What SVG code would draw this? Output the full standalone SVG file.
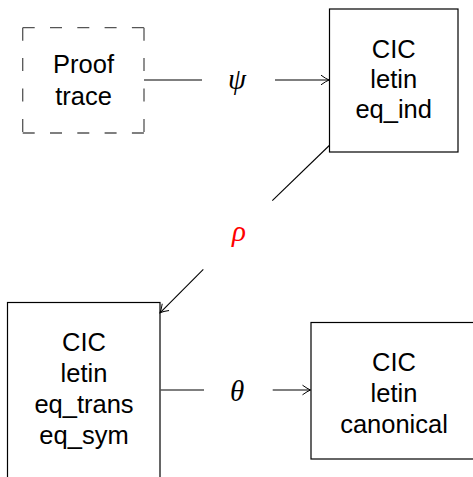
<svg xmlns="http://www.w3.org/2000/svg" width="473" height="477" viewBox="0 0 473 477">
<style>
.box{fill:none;stroke:#000;stroke-width:1.2}
.dash{fill:none;stroke:#555;stroke-width:1.3}
.t{font-family:"Liberation Sans","DejaVu Sans",sans-serif;font-size:25.5px;fill:#000;text-anchor:middle}
.m{font-family:"Liberation Serif","DejaVu Serif",serif;font-style:italic;font-size:29px;text-anchor:middle}
.c{fill:none;stroke:#000;stroke-width:1.1}
</style>
<defs>
<marker id="to" viewBox="-9 -6 10 12" refX="0" refY="0" markerWidth="10" markerHeight="12" markerUnits="userSpaceOnUse" orient="auto">
<path d="M-8,-4.8 Q-3,-1.2 0,0 Q-3,1.2 -8,4.8" fill="none" stroke="#000" stroke-width="1"/>
</marker>
</defs>
<g id="proof-trace">
<line class="dash" x1="22.7" y1="27.7" x2="144" y2="27.7" stroke-dasharray="12 15.3"/>
<line class="dash" x1="22.7" y1="133" x2="144" y2="133" stroke-dasharray="12 15.3"/>
<line class="dash" x1="22.7" y1="27.7" x2="22.7" y2="133" stroke-dasharray="13 17.4"/>
<line class="dash" x1="144" y1="27.7" x2="144" y2="133" stroke-dasharray="13 17.4"/>
<text class="t" x="83.5" y="73">Proof</text>
<text class="t" x="83.5" y="105">trace</text>
</g>
<g id="cic-eq-ind">
<rect class="box" x="329.5" y="9" width="128.5" height="143"/>
<text class="t" x="393.7" y="58">CIC</text>
<text class="t" x="393.7" y="88">letin</text>
<text class="t" x="393.7" y="118">eq_ind</text>
</g>
<g id="cic-eq-trans">
<rect class="box" x="7.5" y="302.5" width="152.5" height="200"/>
<text class="t" x="84" y="351">CIC</text>
<text class="t" x="84" y="382">letin</text>
<text class="t" x="84" y="413">eq_trans</text>
<text class="t" x="84" y="444">eq_sym</text>
</g>
<g id="cic-canonical">
<rect class="box" x="311" y="322.5" width="170" height="136.5"/>
<text class="t" x="394" y="371">CIC</text>
<text class="t" x="394" y="402">letin</text>
<text class="t" x="394" y="433">canonical</text>
</g>
<g id="connectors">
<line class="c" x1="144" y1="80" x2="202" y2="80"/>
<line class="c" x1="275" y1="80" x2="329" y2="80" marker-end="url(#to)"/>
<text class="m" x="237" y="89" fill="#000">ψ</text>
<line class="c" x1="329.3" y1="145.5" x2="272.3" y2="200.7"/>
<line class="c" x1="203.3" y1="269.3" x2="160" y2="312.8" marker-end="url(#to)"/>
<text class="m" x="239" y="241" fill="#ff0000">ρ</text>
<line class="c" x1="160.7" y1="390" x2="204" y2="390"/>
<line class="c" x1="272.7" y1="390" x2="310.5" y2="390" marker-end="url(#to)"/>
<text class="m" x="237" y="401" fill="#000">θ</text>
</g>
</svg>
